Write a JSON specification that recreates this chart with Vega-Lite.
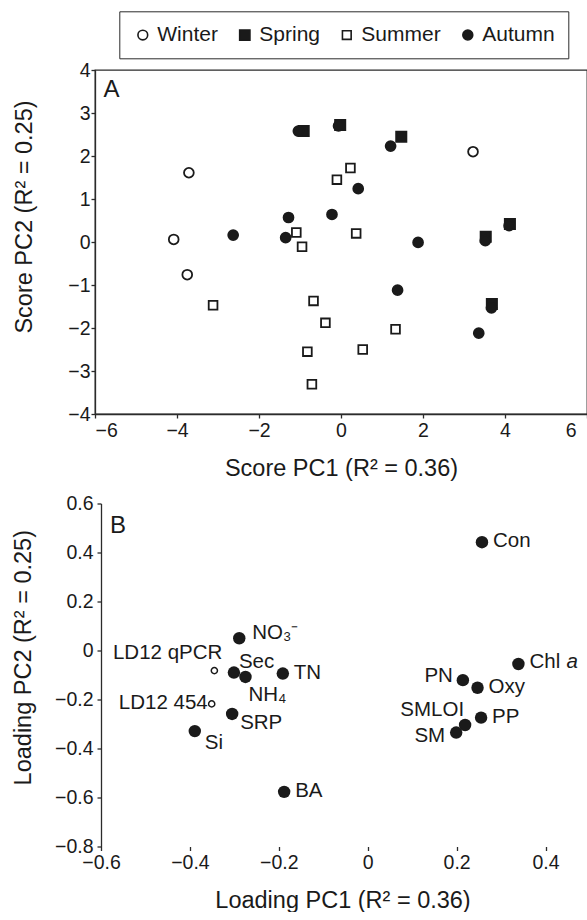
{
  "$schema": "https://vega.github.io/schema/vega-lite/v6.json",
  "padding": {"left": 11, "top": 10, "right": 0, "bottom": 0},
  "background": "white",
  "config": {
    "font": "Liberation Sans",
    "view": {"stroke": "#2b2b2b", "strokeWidth": 1.3},
    "axis": {
      "grid": false,
      "domainColor": "#2b2b2b",
      "domainWidth": 1.3,
      "tickColor": "#2b2b2b",
      "tickWidth": 1.3,
      "tickSize": 4,
      "labelFont": "Liberation Sans",
      "labelFontSize": 19.5,
      "labelColor": "#1a1a1a",
      "titleFont": "Liberation Sans",
      "titleFontSize": 23.5,
      "titleFontWeight": "normal",
      "titleColor": "#1a1a1a",
      "titleBaseline": "middle"
    },
    "text": {"font": "Liberation Sans", "color": "#1a1a1a"}
  },
  "datasets": {
    "scores": [
      {"season": "Winter", "pc1": -3.71, "pc2": 1.61},
      {"season": "Winter", "pc1": -4.08, "pc2": 0.06},
      {"season": "Winter", "pc1": -3.75, "pc2": -0.76},
      {"season": "Winter", "pc1": 3.22, "pc2": 2.10},
      {"season": "Spring", "pc1": -0.91, "pc2": 2.58},
      {"season": "Spring", "pc1": -0.02, "pc2": 2.72},
      {"season": "Spring", "pc1": 1.47, "pc2": 2.45},
      {"season": "Spring", "pc1": 3.53, "pc2": 0.12},
      {"season": "Spring", "pc1": 4.12, "pc2": 0.42},
      {"season": "Spring", "pc1": 3.68, "pc2": -1.44},
      {"season": "Summer", "pc1": -1.09, "pc2": 0.22},
      {"season": "Summer", "pc1": -0.95, "pc2": -0.11},
      {"season": "Summer", "pc1": 0.23, "pc2": 1.72},
      {"season": "Summer", "pc1": -0.10, "pc2": 1.45},
      {"season": "Summer", "pc1": 0.37, "pc2": 0.20},
      {"season": "Summer", "pc1": -0.67, "pc2": -1.37},
      {"season": "Summer", "pc1": -0.38, "pc2": -1.88},
      {"season": "Summer", "pc1": 1.33, "pc2": -2.03},
      {"season": "Summer", "pc1": 0.53, "pc2": -2.50},
      {"season": "Summer", "pc1": -0.82, "pc2": -2.55},
      {"season": "Summer", "pc1": -0.71, "pc2": -3.31},
      {"season": "Summer", "pc1": -3.12, "pc2": -1.47},
      {"season": "Autumn", "pc1": -1.04, "pc2": 2.58},
      {"season": "Autumn", "pc1": -0.06, "pc2": 2.70},
      {"season": "Autumn", "pc1": 1.21, "pc2": 2.23},
      {"season": "Autumn", "pc1": 3.52, "pc2": 0.03},
      {"season": "Autumn", "pc1": 4.10, "pc2": 0.38},
      {"season": "Autumn", "pc1": 3.67, "pc2": -1.53},
      {"season": "Autumn", "pc1": -2.63, "pc2": 0.16},
      {"season": "Autumn", "pc1": -1.28, "pc2": 0.57},
      {"season": "Autumn", "pc1": -1.35, "pc2": 0.10},
      {"season": "Autumn", "pc1": 0.42, "pc2": 1.24},
      {"season": "Autumn", "pc1": -0.22, "pc2": 0.64},
      {"season": "Autumn", "pc1": 1.88, "pc2": -0.01},
      {"season": "Autumn", "pc1": 1.38, "pc2": -1.12},
      {"season": "Autumn", "pc1": 3.36, "pc2": -2.12}
    ],
    "loadings": [
      {"variable": "Con", "kind": "env", "pc1": 0.257, "pc2": 0.442},
      {"variable": "Chl a", "kind": "env", "pc1": 0.339, "pc2": -0.055},
      {"variable": "PN", "kind": "env", "pc1": 0.214, "pc2": -0.121},
      {"variable": "Oxy", "kind": "env", "pc1": 0.247, "pc2": -0.152},
      {"variable": "PP", "kind": "env", "pc1": 0.255, "pc2": -0.274},
      {"variable": "SMLOI", "kind": "env", "pc1": 0.219, "pc2": -0.304},
      {"variable": "SM", "kind": "env", "pc1": 0.199, "pc2": -0.335},
      {"variable": "NO₃⁻", "kind": "env", "pc1": -0.289, "pc2": 0.050},
      {"variable": "Sec", "kind": "env", "pc1": -0.301, "pc2": -0.090},
      {"variable": "NH₄", "kind": "env", "pc1": -0.275, "pc2": -0.108},
      {"variable": "TN", "kind": "env", "pc1": -0.191, "pc2": -0.094},
      {"variable": "SRP", "kind": "env", "pc1": -0.305, "pc2": -0.259},
      {"variable": "Si", "kind": "env", "pc1": -0.389, "pc2": -0.329},
      {"variable": "BA", "kind": "env", "pc1": -0.188, "pc2": -0.577},
      {"variable": "LD12 qPCR", "kind": "LD12", "pc1": -0.345, "pc2": -0.082},
      {"variable": "LD12 454", "kind": "LD12", "pc1": -0.351, "pc2": -0.218}
    ]
  },
  "columns": 1,
  "spacing": 12.5,
  "concat": [
    {
      "width": 492,
      "height": 344,
      "data": {"name": "scores"},
      "encoding": {
        "x": {"field": "pc1", "type": "quantitative",
              "scale": {"domain": [-6, 6], "nice": false, "zero": false},
              "axis": {"title": "Score PC1 (R² = 0.36)", "values": [-6, -4, -2, 0, 2, 4, 6], "format": "d",
                       "labelPadding": 3, "titleY": 54,
                       "labelOffset": {"condition": {"test": "datum.value == 6", "value": -11}, "value": 0}}},
        "y": {"field": "pc2", "type": "quantitative",
              "scale": {"domain": [-4, 4], "nice": false, "zero": false},
              "axis": {"title": "Score PC2 (R² = 0.25)", "values": [-4, -3, -2, -1, 0, 1, 2, 3, 4], "format": "d",
                       "labelPadding": 1, "titleX": -70.7, "titleY": 146.5}}
      },
      "layer": [
        {
          "mark": {"type": "point", "stroke": "#1a1a1a", "strokeWidth": 1.8, "opacity": 1},
          "encoding": {
            "shape": {"field": "season", "type": "nominal",
                      "scale": {"domain": ["Winter", "Spring", "Summer", "Autumn"], "range": ["circle", "square", "square", "circle"]},
                      "legend": {"title": null, "orient": "none", "legendX": 24.3, "legendY": -58.7, "direction": "horizontal",
                                 "strokeColor": "#2b2b2b", "padding": 13, "labelFontSize": 21, "labelFont": "Liberation Sans",
                                 "labelColor": "#1a1a1a", "labelOffset": 4, "columnPadding": 16, "symbolOffset": 0,
                                 "symbolStrokeWidth": 1.6, "symbolStrokeColor": "#1a1a1a"}},
            "fill": {"field": "season", "type": "nominal",
                     "scale": {"domain": ["Winter", "Spring", "Summer", "Autumn"], "range": ["white", "#1a1a1a", "white", "#1a1a1a"]}},
            "size": {"field": "season", "type": "nominal",
                     "scale": {"type": "ordinal", "domain": ["Winter", "Spring", "Summer", "Autumn"], "range": [95, 105, 76, 98]}}
          }
        },
        {
          "data": {"values": [{"panel": "A", "px": -5.79, "py": 3.54}]},
          "mark": {"type": "text", "align": "left", "baseline": "middle", "fontSize": 24},
          "encoding": {
            "x": {"field": "px", "type": "quantitative"},
            "y": {"field": "py", "type": "quantitative"},
            "text": {"field": "panel"}
          }
        }
      ]
    },
    {
      "width": 495,
      "height": 343,
      "view": {"stroke": null},
      "data": {"name": "loadings"},
      "encoding": {
        "x": {"field": "pc1", "type": "quantitative",
              "scale": {"domain": [-0.6135, 0.5], "nice": false, "zero": false},
              "axis": {"title": "Loading PC1 (R² = 0.36)", "values": [-0.6, -0.4, -0.2, 0, 0.2, 0.4], "format": ".1~f",
                       "labelPadding": 3, "titleY": 53.5, "domain": false}},
        "y": {"field": "pc2", "type": "quantitative",
              "scale": {"domain": [-0.8, 0.6], "nice": false, "zero": false},
              "axis": {"title": "Loading PC2 (R² = 0.25)", "values": [-0.8, -0.6, -0.4, -0.2, 0, 0.2, 0.4, 0.6], "format": ".1~f",
                       "labelPadding": 4, "titleX": -77.2, "titleY": 153.7, "offset": -6}}
      },
      "layer": [
        {
          "data": {"values": [{"edge": "top", "pc2": 0.6}, {"edge": "bottom", "pc2": -0.8}]},
          "mark": {"type": "rule", "stroke": "#2b2b2b", "strokeWidth": 1.3},
          "encoding": {
            "x": {"datum": -0.6, "type": "quantitative"},
            "x2": {"datum": 0.5},
            "y": {"field": "pc2", "type": "quantitative"}
          }
        },
        {
          "transform": [{"filter": "datum.kind == 'env'"}],
          "mark": {"type": "point", "shape": "circle", "filled": true, "fill": "#1a1a1a", "size": 155, "opacity": 1}
        },
        {
          "transform": [{"filter": "datum.kind == 'LD12'"}],
          "mark": {"type": "point", "shape": "circle", "filled": false, "stroke": "#1a1a1a", "strokeWidth": 1.5, "size": 38, "opacity": 1}
        },
        {
          "transform": [{"filter": {"field": "variable", "oneOf": ["Con", "TN", "BA", "Oxy", "PP"]}}],
          "mark": {"type": "text", "align": "left", "baseline": "middle", "fontSize": 20.5, "dx": 11, "dy": -1},
          "encoding": {"text": {"field": "variable"}}
        },
        {
          "transform": [{"filter": "datum.variable == 'Chl a'"}],
          "mark": {"type": "text", "align": "left", "baseline": "middle", "fontSize": 20.5, "dx": 11, "dy": -2, "text": "Chl"}
        },
        {
          "transform": [{"filter": "datum.variable == 'Chl a'"}],
          "mark": {"type": "text", "align": "left", "baseline": "middle", "fontSize": 20.5, "dx": 48, "dy": -2, "text": "a", "fontStyle": "italic"}
        },
        {
          "transform": [{"filter": "datum.variable == 'PN'"}],
          "mark": {"type": "text", "align": "right", "baseline": "middle", "fontSize": 20.5, "dx": -10, "dy": -4},
          "encoding": {"text": {"field": "variable"}}
        },
        {
          "transform": [{"filter": "datum.variable == 'SM'"}],
          "mark": {"type": "text", "align": "right", "baseline": "middle", "fontSize": 20.5, "dx": -11, "dy": 3},
          "encoding": {"text": {"field": "variable"}}
        },
        {
          "transform": [{"filter": "datum.variable == 'SMLOI'"}],
          "mark": {"type": "text", "align": "right", "baseline": "middle", "fontSize": 20.5, "dx": -1, "dy": -15},
          "encoding": {"text": {"field": "variable"}}
        },
        {
          "transform": [{"filter": "datum.variable == 'LD12 454'"}],
          "mark": {"type": "text", "align": "right", "baseline": "middle", "fontSize": 20.5, "dx": -4, "dy": -1},
          "encoding": {"text": {"field": "variable"}}
        },
        {
          "transform": [{"filter": "datum.variable == 'LD12 qPCR'"}],
          "mark": {"type": "text", "align": "right", "baseline": "middle", "fontSize": 20.5, "dx": 8, "dy": -18},
          "encoding": {"text": {"field": "variable"}}
        },
        {
          "transform": [{"filter": "datum.variable == 'NO₃⁻'"}],
          "mark": {"type": "text", "align": "left", "baseline": "middle", "fontSize": 20.5, "dx": 13, "dy": -5},
          "encoding": {"text": {"field": "variable"}}
        },
        {
          "transform": [{"filter": "datum.variable == 'Sec'"}],
          "mark": {"type": "text", "align": "left", "baseline": "middle", "fontSize": 20.5, "dx": 5, "dy": -11},
          "encoding": {"text": {"field": "variable"}}
        },
        {
          "transform": [{"filter": "datum.variable == 'NH₄'"}],
          "mark": {"type": "text", "align": "left", "baseline": "middle", "fontSize": 20.5, "dx": 3, "dy": 18},
          "encoding": {"text": {"field": "variable"}}
        },
        {
          "transform": [{"filter": "datum.variable == 'SRP'"}],
          "mark": {"type": "text", "align": "left", "baseline": "middle", "fontSize": 20.5, "dx": 8, "dy": 9},
          "encoding": {"text": {"field": "variable"}}
        },
        {
          "transform": [{"filter": "datum.variable == 'Si'"}],
          "mark": {"type": "text", "align": "left", "baseline": "middle", "fontSize": 20.5, "dx": 10, "dy": 12},
          "encoding": {"text": {"field": "variable"}}
        },
        {
          "data": {"values": [{"panel": "B", "px": -0.58, "py": 0.507}]},
          "mark": {"type": "text", "align": "left", "baseline": "middle", "fontSize": 24},
          "encoding": {
            "x": {"field": "px", "type": "quantitative"},
            "y": {"field": "py", "type": "quantitative"},
            "text": {"field": "panel"}
          }
        }
      ]
    }
  ]
}
